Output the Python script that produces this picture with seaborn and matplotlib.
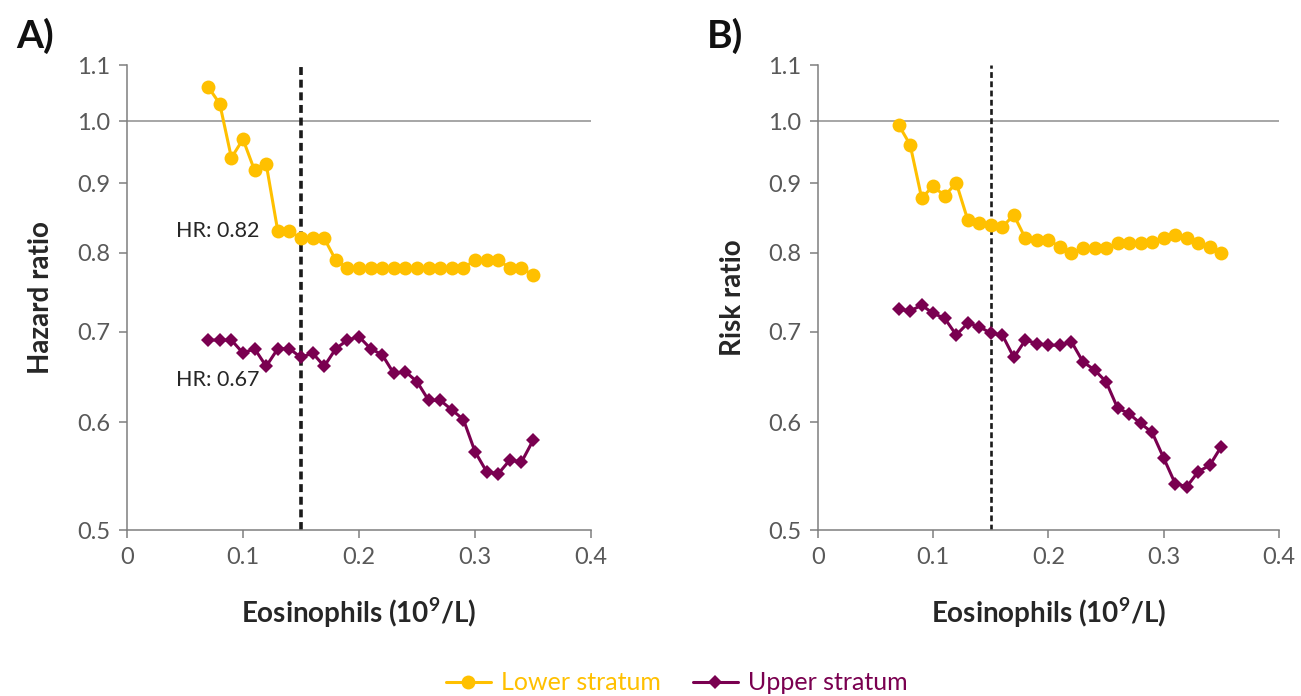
import numpy as np
import pandas as pd
import matplotlib
matplotlib.use("Agg")
import matplotlib.pyplot as plt
from matplotlib.ticker import FixedLocator, FixedFormatter, NullLocator
from matplotlib.lines import Line2D
import seaborn as sns

# Eosinophil thresholds (10^9/L)
eos = [0.07, 0.08, 0.09, 0.10, 0.11, 0.12, 0.13, 0.14, 0.15, 0.16,
       0.17, 0.18, 0.19, 0.20, 0.21, 0.22, 0.23, 0.24, 0.25, 0.26,
       0.27, 0.28, 0.29, 0.30, 0.31, 0.32, 0.33, 0.34, 0.35]

# Panel A: hazard ratios
hr_lower = [1.06, 1.03, 0.94, 0.97, 0.92, 0.93, 0.83, 0.83, 0.82, 0.82,
            0.82, 0.79, 0.78, 0.78, 0.78, 0.78, 0.78, 0.78, 0.78, 0.78,
            0.78, 0.78, 0.78, 0.79, 0.79, 0.79, 0.78, 0.78, 0.77]
hr_upper = [0.69, 0.69, 0.69, 0.675, 0.68, 0.66, 0.68, 0.68, 0.67, 0.675,
            0.66, 0.68, 0.69, 0.694, 0.68, 0.673, 0.652, 0.654, 0.643, 0.623,
            0.623, 0.613, 0.603, 0.571, 0.552, 0.55, 0.563, 0.561, 0.582]

# Panel B: risk ratios
rr_lower = [0.994, 0.961, 0.878, 0.896, 0.881, 0.901, 0.846, 0.841, 0.839, 0.836,
            0.853, 0.82, 0.817, 0.818, 0.808, 0.80, 0.806, 0.807, 0.806, 0.813,
            0.813, 0.814, 0.815, 0.82, 0.824, 0.82, 0.813, 0.808, 0.80]
rr_upper = [0.727, 0.725, 0.732, 0.722, 0.716, 0.696, 0.71, 0.706, 0.698, 0.696,
            0.67, 0.69, 0.686, 0.684, 0.684, 0.688, 0.665, 0.656, 0.643, 0.615,
            0.609, 0.599, 0.59, 0.565, 0.541, 0.538, 0.552, 0.558, 0.576]

strata = ["Lower stratum", "Upper stratum"]
y_ticks = [0.5, 0.6, 0.7, 0.8, 0.9, 1.0, 1.1]
y_ticklabels = ["0.5", "0.6", "0.7", "0.8", "0.9", "1.0", "1.1"]
x_ticks = [0, 0.1, 0.2, 0.3, 0.4]
x_ticklabels = ["0", "0.1", "0.2", "0.3", "0.4"]
cutoff = 0.15
# HR annotations: text, value, vertical placement of the text
hr_notes = [("HR: 0.82", 0.82, 0.830), ("HR: 0.67", 0.67, 0.645)]

GOLD = "#FFC000"
PLUM = "#7A0050"
palette = {strata[0]: GOLD, strata[1]: PLUM}
markers = {strata[0]: "o", strata[1]: "D"}
msizes = {strata[0]: 10.0, strata[1]: 7.6}

sns.set_theme(style="white")
plt.rcParams["font.family"] = ["Lato", "DejaVu Sans"]
plt.rcParams["mathtext.fontset"] = "custom"
plt.rcParams["mathtext.rm"] = "Lato"
plt.rcParams["mathtext.bf"] = "Lato:bold"

fig = plt.figure(figsize=(13.01, 6.96), dpi=100)
axA = fig.add_axes([0.0976, 0.2385, 0.3567, 0.668])
axB = fig.add_axes([0.6287, 0.2385, 0.3543, 0.668])

panels = [
    (axA, hr_lower, hr_upper, "Hazard ratio", "A)", 2.6),
    (axB, rr_lower, rr_upper, "Risk ratio", "B)", 1.9),
]

for ax, low, up, ylab, tag, dash_lw in panels:
    df = pd.DataFrame({
        "eos": eos * 2,
        "ratio": low + up,
        "stratum": [strata[0]] * len(eos) + [strata[1]] * len(eos),
    })
    ax.set_yscale("log")
    ax.axhline(1.0, color="#A6A6A6", lw=1.4, zorder=1)
    ax.axvline(cutoff, color="#1a1a1a", lw=dash_lw, ls=(0, (2.2, 1.3)), zorder=2)
    for s in strata:
        sub = df[df["stratum"] == s]
        sns.lineplot(data=sub, x="eos", y="ratio", ax=ax, color=palette[s],
                     marker=markers[s], markersize=msizes[s],
                     markeredgewidth=0, lw=2.2, zorder=3, legend=False)
    ax.set_xlim(0, 0.4)
    ax.set_ylim(0.5, 1.1)
    ax.yaxis.set_major_locator(FixedLocator(y_ticks))
    ax.yaxis.set_major_formatter(FixedFormatter(y_ticklabels))
    ax.yaxis.set_minor_locator(NullLocator())
    ax.set_xticks(x_ticks)
    ax.set_xticklabels(x_ticklabels)
    for side in ["top", "right"]:
        ax.spines[side].set_visible(False)
    for side in ["left", "bottom"]:
        ax.spines[side].set_color("#7F7F7F")
        ax.spines[side].set_linewidth(1.1)
    ax.tick_params(axis="both", which="major", direction="out", length=6,
                   width=1.1, color="#7F7F7F", labelsize=17,
                   labelcolor="#595959", pad=6, left=True, bottom=True)
    ax.set_xlabel("Eosinophils (10$^{\\mathbf{9}}$/L)", fontsize=20,
                  fontweight="bold", color="#262626")
    ax.set_ylabel(ylab, fontsize=20, fontweight="bold", color="#262626")
    ax.xaxis.set_label_coords(0.5, -0.14)
    ax.yaxis.set_label_coords(-0.157, 0.5)
    bbox = ax.get_position()
    fig.text(bbox.x0 - 0.085, 0.948, tag, fontsize=28, fontweight="bold",
             color="#111111", va="center", ha="left")

for txt, val, ypos in hr_notes:
    axA.text(0.114, ypos, txt, ha="right", va="center", fontsize=15.5,
             color="#262626")

handles = [Line2D([0], [0], color=palette[s], lw=2.2, marker=markers[s],
                  markersize=msizes[s], markeredgewidth=0) for s in strata]
leg = fig.legend(handles, strata, loc="center", bbox_to_anchor=(0.52, 0.019),
                 ncol=2, frameon=False, fontsize=18, handlelength=1.8,
                 columnspacing=1.3, handletextpad=0.4, labelcolor="linecolor")

fig.savefig("out.png", dpi=100)
